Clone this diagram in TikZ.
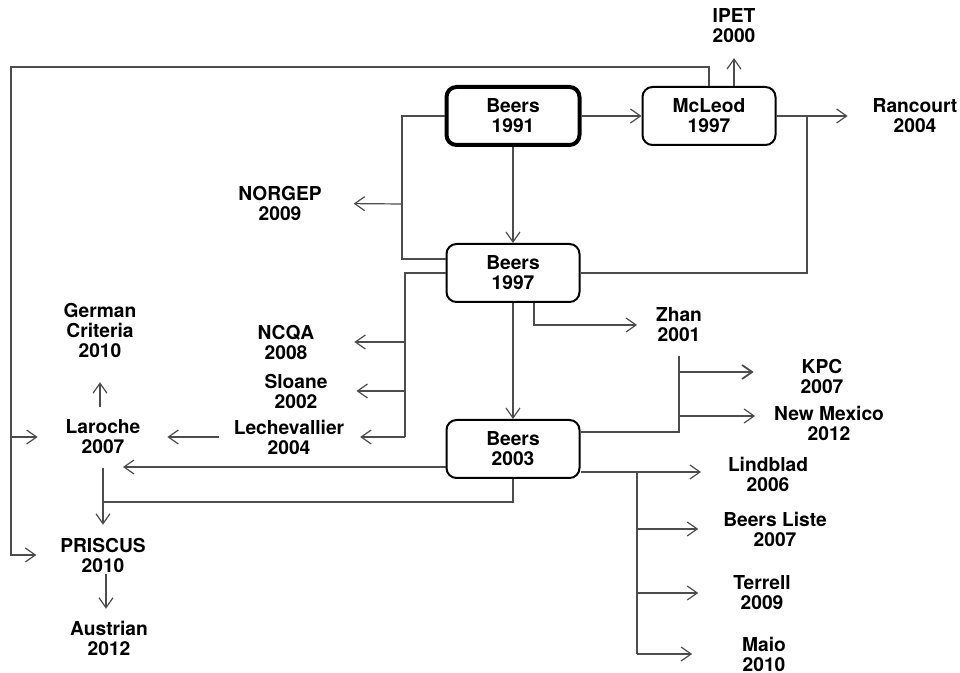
\documentclass[tikz,border=0pt]{standalone}
\usepackage{fontspec}
\setmainfont{TeX Gyre Heros}
\usetikzlibrary{arrows.meta}

\tikzset{
  guide/.style={draw, rounded corners=5pt, minimum width=66.5pt, minimum height=29pt, align=center, line width=1pt},
  crit/.style={align=center, inner sep=0pt, outer sep=0pt},
  link/.style={draw=black!70, line width=0.6pt},
  arr/.style={link, -{Straight Barb[length=5pt,width=7pt]}},
}

\begin{document}
\begin{tikzpicture}[x=0.5pt, y=-0.5pt, font=\fontsize{9.6}{10}\selectfont\bfseries]
    \useasboundingbox (0,0) rectangle (960,673);

    % The Beers lists and McLeod
    \node[guide, line width=2pt] (b91) at (513,116) {Beers\\1991};
    \node[guide] (mcl) at (709,116) {McLeod\\1997};
    \node[guide] (b97) at (513,273) {Beers\\1997};
    \node[guide] (b03) at (513,449) {Beers\\2003};

    % Criteria derived from them
    \node[crit] (ipet) at (734,26) {IPET\\2000};
    \node[crit] (ranc) at (915,116) {Rancourt\\2004};
    \node[crit] (norgep) at (280,203) {NORGEP\\2009};
    \node[crit] (ncqa) at (286,342) {NCQA\\2008};
    \node[crit] (sloane) at (296,391) {Sloane\\2002};
    \node[crit] (lechev) at (289,437) {Lechevallier\\2004};
    \node[crit] (german) at (100,330) {German\\Criteria\\2010};
    \node[crit] (laroche) at (103,437) {Laroche\\2007};
    \node[crit] (priscus) at (103,555) {PRISCUS\\2010};
    \node[crit] (austrian) at (109,638) {Austrian\\2012};
    \node[crit] (zhan) at (679,325) {Zhan\\2001};
    \node[crit] (kpc) at (822,376) {KPC\\2007};
    \node[crit] (newmex) at (829,423) {New Mexico\\2012};
    \node[crit] (lindblad) at (768,474) {Lindblad\\2006};
    \node[crit] (beersliste) at (775,529) {Beers Liste\\2007};
    \node[crit] (terrell) at (762,593) {Terrell\\2009};
    \node[crit] (maio) at (764,654) {Maio\\2010};

    % Branch points
    \coordinate (loop) at (11,67);
    \coordinate (rb) at (807,116);
    \coordinate (nb) at (402,204);
    \coordinate (cb) at (405,437);
    \coordinate (lrin) at (123,467);
    \coordinate (jn) at (103,502);
    \coordinate (lb) at (637,472);

    % Top row
    \draw[arr] (b91) -- (mcl);
    \draw[arr] (b91) -- (b97);
    \draw[arr] (b97) -- (b03);
    \draw[arr, shorten >=7.5pt] (ipet |- mcl.north) -- (ipet);
    \draw[arr, shorten >=12.5pt] (mcl) -- (ranc);
    \draw[link] (rb) |- (b97.east);

    % Outer loop to Laroche and PRISCUS
    \draw[arr, shorten >=12pt] (mcl.north) |- (loop) |- (priscus);
    \draw[arr, shorten >=14pt] (loop |- laroche) -- (laroche);

    % Left side of Beers 1991 and 1997
    \draw[link] (b91.west) -| (nb) |- ([yshift=7pt]b97.west);
    \draw[arr, shorten >=16pt] (nb) -- (norgep);
    \draw[link] (b97.west) -| (cb);
    \draw[arr, shorten >=20pt] (cb |- ncqa) -- (ncqa);
    \draw[arr, shorten >=14.5pt] (cb |- sloane) -- (sloane);
    \draw[arr, shorten >=8pt] (cb) -- (lechev);
    \draw[arr, shorten <=7.5pt, shorten >=13.5pt] (lechev) -- (laroche);
    \draw[arr, shorten <=6.5pt, shorten >=12.5pt] (german |- laroche.north) -- (german);
    \draw[arr] ([yshift=-9pt]b03.west) -- (lrin);
    \draw[link] (b03.south) |- (jn);
    \draw[arr, shorten <=7pt, shorten >=6.5pt] (laroche) -- (priscus);
    \draw[arr, shorten <=1pt, shorten >=6pt] ([xshift=1.5pt]priscus.south) -- ([xshift=1.5pt]priscus.south |- austrian.north);

    % Right side of Beers 1997 and 2003
    \draw[arr, shorten >=9.5pt] ([xshift=10.5pt]b97.south) |- (zhan);
    \draw[link, shorten >=7pt] ([yshift=8.5pt]b03.east) -| (zhan.south);
    \draw[arr, line width=0.9pt, shorten >=23.5pt] ([yshift=2pt]zhan.south |- kpc.west) -- ([yshift=2pt]kpc.west);
    \draw[arr, shorten >=9.5pt] ([yshift=3.5pt]zhan.south |- newmex.west) -- ([yshift=3.5pt]newmex.west);
    \draw[arr, shorten >=13.5pt] ([yshift=-11.5pt]b03.east) -- (lb -| lindblad.west);
    \draw[link] (lb) -- (lb |- maio);
    \foreach \n/\g in {beersliste/12.5pt, terrell/17.5pt, maio/25pt} {
        \draw[arr, shorten >=\g] (lb |- \n) -- (\n);
    }
\end{tikzpicture}
\end{document}
